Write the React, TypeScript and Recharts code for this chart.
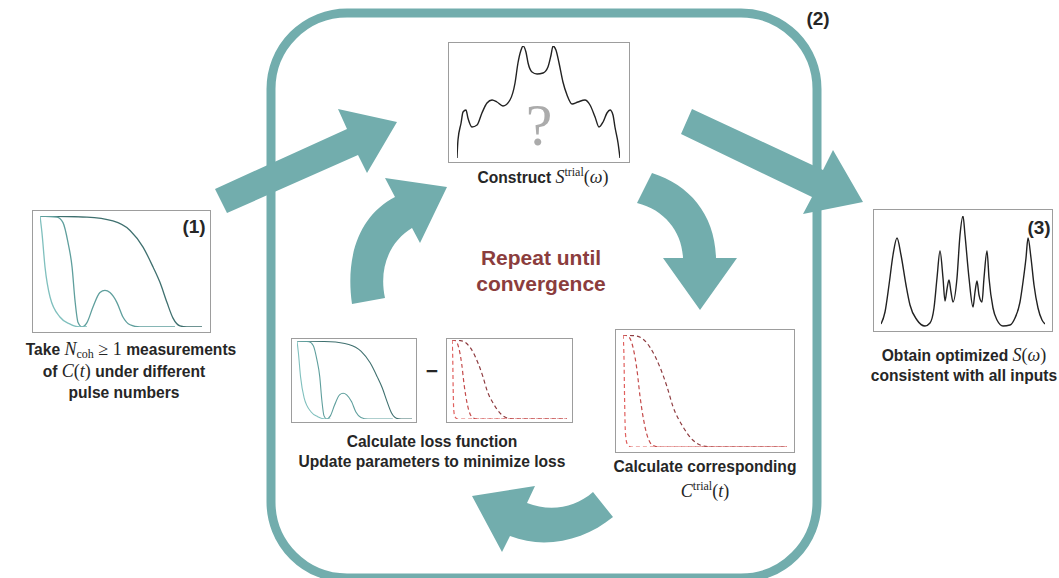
import React from 'react';
import { LineChart, Line, XAxis, YAxis } from 'recharts';

// ---------- data ----------
// measured coherence curves C(t): x 0..100 (time), y 0..1
const measuredFast: number[][] = [[0, 1], [1.2, 0.85], [3.1, 0.54], [6.2, 0.27], [12.3, 0.09], [18, 0.03], [24.7, 0], [29, 0]];
const measuredMid: number[][] = [[0, 1], [10.5, 0.99], [14.2, 0.94], [17.3, 0.76], [19.8, 0.54], [21.6, 0.24], [23.5, 0.04], [25.9, 0], [29, 0.04], [32.7, 0.18], [37, 0.31], [40.1, 0.33], [43.2, 0.31], [47.5, 0.22], [51.2, 0.09], [55.6, 0.02], [61.7, 0], [83.3, 0]];
const measuredSlow: number[][] = [[0, 1], [29, 0.99], [45, 0.955], [55.6, 0.87], [63.6, 0.72], [69.8, 0.54], [74.1, 0.4], [78.4, 0.22], [82.1, 0.08], [86.4, 0.01], [90.7, 0], [100, 0]];

// trial coherence curves C^trial(t)
const trialFast: number[][] = [[0, 1], [0.6, 0.8], [1.0, 0.4], [1.5, 0.12], [2.5, 0.03], [5, 0], [100, 0]];
const trialMid: number[][] = [[0, 1], [3, 0.99], [6.1, 0.89], [8.5, 0.69], [10.4, 0.45], [13.4, 0.18], [17.7, 0.02], [22, 0], [100, 0]];
const trialSlow: number[][] = [[0, 1], [8.5, 0.99], [16.5, 0.89], [22.6, 0.71], [26.8, 0.54], [30.5, 0.36], [36.6, 0.18], [42.7, 0.06], [48.8, 0.01], [55, 0], [100, 0]];

// trial spectrum S^trial(w): x 0..100, y 0..112
const spectrumTrial: number[][] = [[0, 0], [0.6, 18], [2.5, 35], [3.7, 46], [5.5, 48], [6.7, 40], [9.2, 31], [12.3, 33], [15.3, 45], [18.4, 55], [21.5, 58], [24.5, 56], [28.2, 52], [32.5, 58], [35.6, 75], [37.4, 95], [39.3, 108], [40.5, 112], [42.3, 106], [43.6, 95], [46, 86], [49.1, 84], [52.8, 85], [55.8, 91], [57.7, 103], [58.9, 112], [60.7, 108], [62.6, 95], [65, 76], [67.5, 63], [70.6, 54], [74.2, 56], [78.5, 58], [81.6, 53], [84.7, 41], [87.1, 31], [89.6, 36], [92, 45], [93.9, 48], [95.7, 43], [96.9, 31], [98.8, 15], [100, 0]];

// optimized spectrum S(w): x 0..164, y 0..111
const spectrumOpt: number[][] = [[0, 3], [4, 15], [8, 42], [12, 72], [16, 89], [20, 72], [25, 42], [29, 22], [36, 7], [44, 1], [49, 4], [53, 19], [56, 49], [59, 76], [62, 49], [64, 26], [66, 38], [68, 47], [70, 35], [72, 25], [76, 49], [79, 92], [82, 111], [84, 92], [88, 49], [92, 20], [94, 35], [96, 46], [98, 32], [101, 25], [103, 49], [106, 76], [108, 49], [112, 19], [116, 7], [122, 1], [129, 2], [134, 9], [139, 25], [142, 45], [145, 69], [147, 89], [150, 69], [153, 42], [157, 19], [161, 7], [164, 3]];

const toPts = (a: number[][]) => a.map(([x, y]) => ({ x, y }));

const TEAL = '#72adad';
const tealLight = '#80c0be';
const tealMid = '#5f9f9d';
const tealDark = '#3f706f';
const redLight = '#e0605e';
const redMid = '#c44a4a';
const redDark = '#8e3c40';
const BOX = '#9d9d9d';
const TXT = '#262626';
const SANS = '"Liberation Sans", Arial, Helvetica, sans-serif';
const SERIF = '"Liberation Serif", "Times New Roman", serif';
const FS = 15.6;
const MS = 18;

type M = { top: number; right: number; bottom: number; left: number };
type Box = { x: number; y: number; w: number; h: number; m: M; xd: [number, number]; yd: [number, number] };

const panel1: Box = { x: 32, y: 210, w: 179, h: 123, m: { top: 6, right: 9, bottom: 6, left: 8 }, xd: [0, 100], yd: [0, 1] };
const panelTop: Box = { x: 448, y: 42, w: 182, h: 121, m: { top: 4, right: 10, bottom: 5, left: 9 }, xd: [0, 100], yd: [0, 112] };
const panel3: Box = { x: 873, y: 209, w: 180, h: 123, m: { top: 7, right: 8, bottom: 5, left: 8 }, xd: [0, 164], yd: [0, 111] };
const panelLossA: Box = { x: 291, y: 338, w: 126, h: 85, m: { top: 3, right: 5, bottom: 4, left: 6 }, xd: [0, 100], yd: [0, 1] };
const panelLossB: Box = { x: 446, y: 338, w: 127, h: 85, m: { top: 2, right: 6, bottom: 4, left: 6 }, xd: [0, 100], yd: [0, 1] };
const panelTrial: Box = { x: 615, y: 329, w: 180, h: 124, m: { top: 6, right: 8, bottom: 6, left: 8 }, xd: [0, 100], yd: [0, 1] };

function Panel({ b, children }: { b: Box; children: React.ReactNode }) {
  return (
    <div style={{ position: 'absolute', left: b.x, top: b.y, width: b.w, height: b.h }}>
      <LineChart width={b.w} height={b.h} margin={b.m}>
        <XAxis type="number" dataKey="x" domain={b.xd} hide allowDataOverflow />
        <YAxis type="number" domain={b.yd} hide allowDataOverflow />
        {children}
      </LineChart>
    </div>
  );
}

const solid = (data: number[][], color: string, w = 1.3) => (
  <Line data={toPts(data)} dataKey="y" type="monotone" stroke={color} strokeWidth={w} dot={false} activeDot={false} isAnimationActive={false} />
);
const dashed = (data: number[][], color: string) => (
  <Line data={toPts(data)} dataKey="y" type="monotone" stroke={color} strokeWidth={1.2} strokeDasharray="4 3" dot={false} activeDot={false} isAnimationActive={false} />
);

const boxes = [panel1, panelTop, panel3, panelLossA, panelLossB, panelTrial];

const mathR = { fontFamily: SERIF, fontWeight: 'normal' as const, fontSize: MS };
const mathI = { ...mathR, fontStyle: 'italic' as const };
const mathSup = { fontFamily: SERIF, fontWeight: 'normal' as const, fontSize: 12 };

export default function App() {
  return (
    <div style={{ position: 'absolute', left: 0, top: 0, width: 1059, height: 578, background: '#fff', overflow: 'hidden' }}>
      <svg width={1059} height={578} style={{ position: 'absolute', left: 0, top: 0 }}>
        <rect x={271} y={13} width={546} height={565} rx={76} ry={76} fill="none" stroke={TEAL} strokeWidth={9} />
        {/* straight arrows */}
        <path d="M215,189 L347,129 L338,109 L397,122 L367,173 L358,155 L227,213 Z" fill={TEAL} />
        <path d="M692,109 L823,170 L833,150 L863,202 L803,214 L812,197 L681,134 Z" fill={TEAL} />
        {/* curved arrows */}
        <path d="M352,304 C345,255 360,215 395,197 L385,178 L447,187 L420,243 L412,228 C392,240 378,265 385,298 Z" fill={TEAL} />
        <path d="M652,173 C690,185 715,215 716,258 L737,258 L700,310 L663,258 L683,258 C682,232 665,210 637,203 Z" fill={TEAL} />
        <path d="M593,492 C575,508 550,512 527,503 L535,486 L472,496 L502,552 L510,536 C545,550 585,540 613,517 Z" fill={TEAL} />
        {boxes.map((b, i) => (
          <rect key={i} x={b.x + 0.5} y={b.y + 0.5} width={b.w - 1} height={b.h - 1} fill="#fff" stroke={BOX} strokeWidth={1} />
        ))}
      </svg>

      <Panel b={panel1}>
        {solid(measuredSlow, tealDark)}
        {solid(measuredMid, tealMid)}
        {solid(measuredFast, tealLight)}
      </Panel>
      <Panel b={panelLossA}>
        {solid(measuredSlow, tealDark, 1.1)}
        {solid(measuredMid, tealMid, 1.1)}
        {solid(measuredFast, tealLight, 1.1)}
      </Panel>
      <Panel b={panelLossB}>
        {dashed(trialSlow, redDark)}
        {dashed(trialMid, redMid)}
        {dashed(trialFast, redLight)}
      </Panel>
      <Panel b={panelTrial}>
        {dashed(trialSlow, redDark)}
        {dashed(trialMid, redMid)}
        {dashed(trialFast, redLight)}
      </Panel>
      <Panel b={panelTop}>
        {solid(spectrumTrial, '#222', 1.4)}
      </Panel>
      <Panel b={panel3}>
        {solid(spectrumOpt, '#222', 1.4)}
      </Panel>

      <svg width={1059} height={578} style={{ position: 'absolute', left: 0, top: 0, pointerEvents: 'none', whiteSpace: 'pre' }}>
        <text x={539} y={145} textAnchor="middle" fontFamily={SERIF} fontSize={60} fill="#ababab">?</text>

        <g fontFamily={SANS} fontWeight="bold" fill={TXT} fontSize={19}>
          <text x={194} y={233} textAnchor="middle">(1)</text>
          <text x={818} y={25} textAnchor="middle">(2)</text>
          <text x={1039} y={234} textAnchor="middle">(3)</text>
        </g>

        <g fontFamily={SANS} fontWeight="bold" fill="#8b3d3d" fontSize={21}>
          <text x={541} y={265} textAnchor="middle">Repeat until</text>
          <text x={541} y={291} textAnchor="middle">convergence</text>
        </g>

        <g fontFamily={SANS} fontWeight="bold" fill={TXT} fontSize={FS}>
          <text x={543} y={183} textAnchor="middle">
            <tspan>Construct </tspan>
            <tspan {...mathI}>S</tspan>
            <tspan {...mathSup} dy={-7}>trial</tspan>
            <tspan {...mathR} dy={7}>(</tspan>
            <tspan {...mathI}>ω</tspan>
            <tspan {...mathR}>)</tspan>
          </text>

          <text x={131} y={355} textAnchor="middle">
            <tspan>Take </tspan>
            <tspan {...mathI}>N</tspan>
            <tspan {...mathSup} dy={3}>coh</tspan>
            <tspan {...mathR} dy={-3}> ≥ 1 </tspan>
            <tspan>measurements</tspan>
          </text>
          <text x={124} y={377} textAnchor="middle">
            <tspan>of </tspan>
            <tspan {...mathI}>C</tspan>
            <tspan {...mathR}>(</tspan>
            <tspan {...mathI}>t</tspan>
            <tspan {...mathR}>)</tspan>
            <tspan> under different</tspan>
          </text>
          <text x={124} y={398} textAnchor="middle">pulse numbers</text>

          <text x={964} y={361} textAnchor="middle">
            <tspan>Obtain optimized </tspan>
            <tspan {...mathI}>S</tspan>
            <tspan {...mathR}>(</tspan>
            <tspan {...mathI}>ω</tspan>
            <tspan {...mathR}>)</tspan>
          </text>
          <text x={964} y={381} textAnchor="middle">consistent with all inputs</text>

          <text x={432} y={378} textAnchor="middle" fontSize={21}>−</text>

          <text x={432} y={447} textAnchor="middle">Calculate loss function</text>
          <text x={432} y={467} textAnchor="middle">Update parameters to minimize loss</text>

          <text x={705} y={472} textAnchor="middle">Calculate corresponding</text>
          <text x={705} y={497} textAnchor="middle" {...mathR}>
            <tspan fontStyle="italic">C</tspan>
            <tspan fontSize={12} dy={-7}>trial</tspan>
            <tspan dy={7}>(</tspan>
            <tspan fontStyle="italic">t</tspan>
            <tspan>)</tspan>
          </text>
        </g>
      </svg>
    </div>
  );
}
